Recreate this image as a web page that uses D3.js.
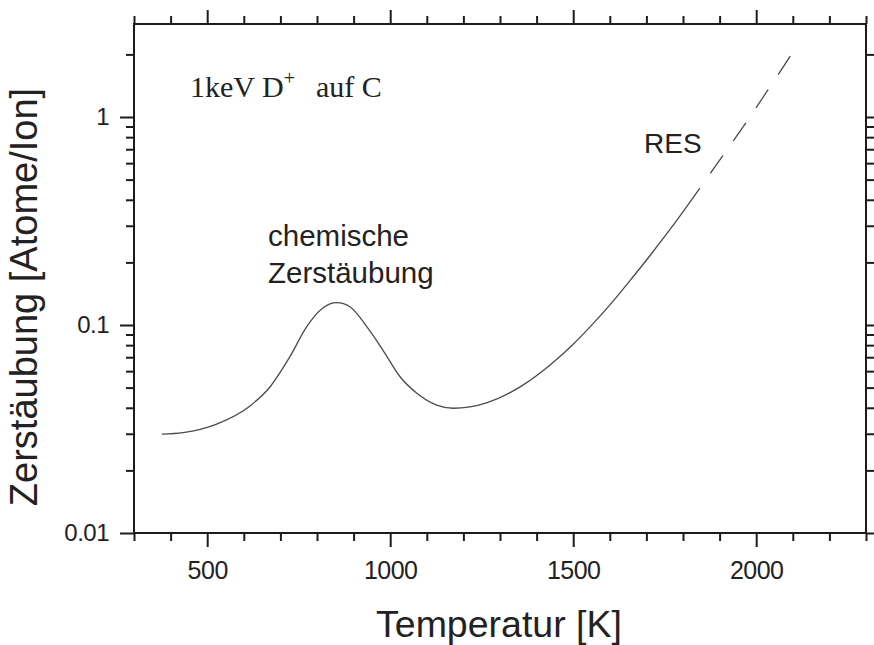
<!DOCTYPE html>
<html>
<head>
<meta charset="utf-8">
<script src="https://cdn.jsdelivr.net/npm/d3@7"></script>
<style>
  html, body { margin: 0; padding: 0; background: #fff; }
  svg { display: block; }
</style>
</head>
<body>
<svg id="chart" width="874" height="645"></svg>
<script>
// Sputtering yield of carbon under 1 keV D+ versus temperature
const tempSolid = [376, 434, 526, 617, 672, 726, 772, 816, 854, 890, 936, 980, 1027, 1072, 1127,
                   1172, 1218, 1265, 1355, 1445, 1500, 1546, 1601, 1655, 1710, 1765, 1819, 1846];
const yieldSolid = [0.0299, 0.0304, 0.0334, 0.0408, 0.0505, 0.0704, 0.0982, 0.1207, 0.128, 0.1224, 0.0982, 0.0758, 0.0564, 0.0471, 0.0412,
                    0.0398, 0.0404, 0.0424, 0.0504, 0.0660, 0.0808, 0.0979, 0.1253, 0.1633, 0.2158, 0.2888, 0.3902, 0.4551];
// Extrapolated radiation-enhanced sublimation branch
const tempDashed = [1846, 1909, 1978, 2043, 2098];
const yieldDashed = [0.4551, 0.6523, 0.9727, 1.4426, 2.0202];

const xMajorTicks = [500, 1000, 1500, 2000];
const xMinorTicks = d3.range(300, 2301, 100).filter(t => !xMajorTicks.includes(t));
const yMajorTicks = [0.01, 0.1, 1];
const yMajorLabels = ["0.01", "0.1", "1"];
const yMinorTicks = [0.02, 0.03, 0.04, 0.05, 0.06, 0.07, 0.08, 0.09,
                     0.2, 0.3, 0.4, 0.5, 0.6, 0.7, 0.8, 0.9, 2];

const xTitle = "Temperatur [K]";
const yTitle = "Zerstäubung [Atome/Ion]";

const svg = d3.select("#chart");
const plotLeft = 134, plotRight = 866, plotTop = 24, plotBottom = 533;

const x = d3.scaleLinear().domain([300, 2300]).range([plotLeft, plotRight]);
const y = d3.scaleLog().domain([0.01, 2.8]).range([plotBottom, plotTop]);

const ink = "#1c1c1c";
const sans = "'Liberation Sans', Arial, Helvetica, sans-serif";

function styleAxis(g) {
  g.select(".domain").remove();
  g.selectAll(".tick line").attr("stroke", ink).attr("stroke-width", 2);
  g.selectAll(".tick text").attr("fill", "#222").attr("font-family", sans);
}

// bottom axis
svg.append("g").attr("transform", `translate(0,${plotBottom})`)
  .call(d3.axisBottom(x).tickValues(xMinorTicks).tickSize(8).tickFormat(""))
  .call(styleAxis);
svg.append("g").attr("transform", `translate(0,${plotBottom})`)
  .call(d3.axisBottom(x).tickValues(xMajorTicks).tickSize(14).tickPadding(14).tickFormat(d3.format("d")))
  .call(styleAxis)
  .call(g => g.selectAll(".tick text").attr("font-size", 25).attr("letter-spacing", -0.5));

// top axis
svg.append("g").attr("transform", `translate(0,${plotTop})`)
  .call(d3.axisTop(x).tickValues(xMinorTicks).tickSize(8).tickFormat(""))
  .call(styleAxis);
svg.append("g").attr("transform", `translate(0,${plotTop})`)
  .call(d3.axisTop(x).tickValues(xMajorTicks).tickSize(14).tickFormat(""))
  .call(styleAxis);

// left axis
svg.append("g").attr("transform", `translate(${plotLeft},0)`)
  .call(d3.axisLeft(y).tickValues(yMinorTicks).tickSize(8).tickFormat(""))
  .call(styleAxis);
svg.append("g").attr("transform", `translate(${plotLeft},0)`)
  .call(d3.axisLeft(y).tickValues(yMajorTicks).tickSize(14).tickPadding(11)
    .tickFormat((d, i) => yMajorLabels[i]))
  .call(styleAxis)
  .call(g => g.selectAll(".tick text").attr("font-size", 24).attr("letter-spacing", -0.5));

// right axis
svg.append("g").attr("transform", `translate(${plotRight},0)`)
  .call(d3.axisRight(y).tickValues(yMinorTicks).tickSize(8).tickFormat(""))
  .call(styleAxis);
svg.append("g").attr("transform", `translate(${plotRight},0)`)
  .call(d3.axisRight(y).tickValues(yMajorTicks).tickSize(14).tickFormat(""))
  .call(styleAxis);

// frame
svg.append("rect")
  .attr("x", plotLeft).attr("y", plotTop)
  .attr("width", plotRight - plotLeft).attr("height", plotBottom - plotTop)
  .attr("fill", "none").attr("stroke", ink).attr("stroke-width", 2);

// curves
const line = d3.line()
  .x(d => x(d[0])).y(d => y(d[1]))
  .curve(d3.curveMonotoneX);

svg.append("path")
  .datum(tempSolid.map((t, i) => [t, yieldSolid[i]]))
  .attr("d", line)
  .attr("fill", "none").attr("stroke", "#4a4a4a").attr("stroke-width", 1.3);

svg.append("path")
  .datum(tempDashed.map((t, i) => [t, yieldDashed[i]]))
  .attr("d", line)
  .attr("fill", "none").attr("stroke", "#4a4a4a").attr("stroke-width", 1.3)
  .attr("stroke-dasharray", "22 18").attr("stroke-dashoffset", 22);

// annotations
const note = svg.append("text")
  .attr("x", 190).attr("y", 97)
  .attr("font-family", "'Liberation Serif', 'Times New Roman', serif")
  .attr("font-size", 30).attr("fill", "#222");
note.append("tspan").text("1keV");
note.append("tspan").attr("x", 262).text("D");
note.append("tspan").attr("dy", -12).attr("font-size", 20).text("+");
note.append("tspan").attr("x", 316).attr("dy", 12).text("auf C");

svg.append("text").attr("x", 268).attr("y", 246)
  .attr("font-family", sans).attr("font-size", 29.5).attr("fill", "#222")
  .text("chemische");
svg.append("text").attr("x", 268).attr("y", 283)
  .attr("font-family", sans).attr("font-size", 29.5).attr("fill", "#222")
  .text("Zerstäubung");
svg.append("text").attr("x", 644).attr("y", 153)
  .attr("font-family", sans).attr("font-size", 28).attr("fill", "#222")
  .text("RES");

// axis titles
svg.append("text")
  .attr("x", 499).attr("y", 637)
  .attr("text-anchor", "middle")
  .attr("font-family", sans).attr("font-size", 37.5).attr("fill", "#222")
  .text(xTitle);
svg.append("text")
  .attr("transform", "translate(37,297) rotate(-90)")
  .attr("text-anchor", "middle")
  .attr("font-family", sans).attr("font-size", 38).attr("fill", "#222")
  .text(yTitle);
</script>
</body>
</html>
